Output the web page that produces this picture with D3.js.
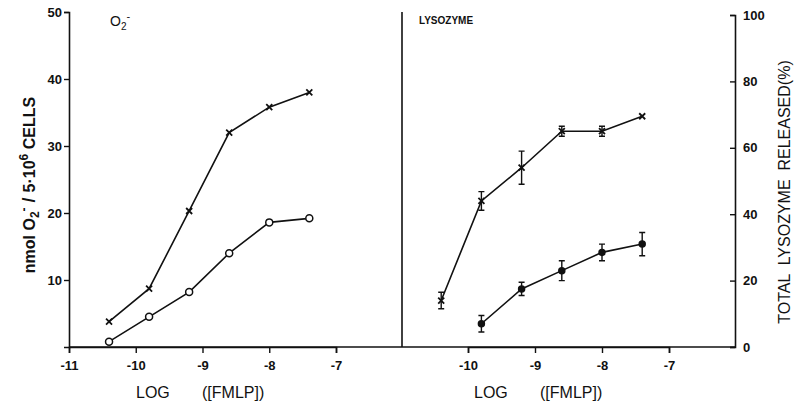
<!DOCTYPE html><html><head><meta charset="utf-8">
<script src="https://cdn.jsdelivr.net/npm/d3@7"></script>
<style>body{margin:0;background:#fff}text{font-family:"Liberation Sans",Arial,sans-serif;fill:#111}</style>
</head><body><svg id="c" width="797" height="412"></svg>
<script>
const logX = [-10.4, -9.8, -9.2, -8.6, -8, -7.4];
const o2Fmlp = [3.8, 8.7, 20.3, 32, 35.8, 38];
const o2Ctrl = [0.8, 4.5, 8.2, 14, 18.6, 19.2];
const lysX = [-10.4, -9.8, -9.2, -8.6, -8, -7.4];
const lysFmlp = [14, 44, 54, 65, 65, 69.5];
const lysFmlpErr = [2.5, 2.8, 5, 1.5, 1.5, 0];
const lysCtrlX = [-9.8, -9.2, -8.6, -8, -7.4];
const lysCtrl = [7, 17.5, 23, 28.5, 31];
const lysCtrlErr = [2.5, 2, 3, 2.5, 3.5];
const leftTicks = [-11, -10, -9, -8, -7];
const rightTicks = [-10, -9, -8, -7];

const svg = d3.select("#c");
const c = "#111";
const x1 = d3.scaleLinear().domain([-11, -7]).range([69, 336]);
const y1 = d3.scaleLinear().domain([0, 50]).range([347, 12]);
const x2 = d3.scaleLinear().domain([-10, -7]).range([468, 669]);
const y2 = d3.scaleLinear().domain([0, 100]).range([347, 15]);

svg.append("line").attr("x1",69).attr("x2",735).attr("y1",347).attr("y2",347).attr("stroke",c).attr("stroke-width",1.6);
svg.append("line").attr("x1",402).attr("x2",402).attr("y1",12).attr("y2",347).attr("stroke",c).attr("stroke-width",1.6);

const gy1 = svg.append("g").attr("transform","translate(69,0)").call(d3.axisLeft(y1).tickValues([10,20,30,40,50]).tickSize(5).tickPadding(2));
const gx1 = svg.append("g").attr("transform","translate(0,347)").call(d3.axisBottom(x1).tickValues(leftTicks).tickSize(6).tickPadding(8).tickFormat(d=>"-"+Math.abs(d)));
const gy2 = svg.append("g").attr("transform","translate(735,0)").call(d3.axisRight(y2).tickValues([0,20,40,60,80,100]).tickSize(-5).tickPadding(3));
const gx2 = svg.append("g").attr("transform","translate(0,347)").call(d3.axisBottom(x2).tickValues(rightTicks).tickSize(6).tickPadding(8).tickFormat(d=>"-"+Math.abs(d)));
[gy1,gx1,gy2,gx2].forEach(g=>{g.select(".domain").attr("stroke",c).attr("stroke-width",1.6);g.selectAll("line").attr("stroke",c).attr("stroke-width",1.4);g.selectAll("text").attr("font-size",13).attr("fill",c).style("font-weight","bold");});
gy2.selectAll("text").attr("x",8);

const line = (xs,ys,xsc,ysc)=>svg.append("path").attr("d",d3.line().x((d,i)=>xsc(xs[i])).y(d=>ysc(d))(ys)).attr("fill","none").attr("stroke",c).attr("stroke-width",1.6);
function crosses(xs,ys,xsc,ysc){xs.forEach((x,i)=>{const px=xsc(x),py=ysc(ys[i]);svg.append("path").attr("d",`M${px-3},${py-3}L${px+3},${py+3}M${px-3},${py+3}L${px+3},${py-3}`).attr("stroke",c).attr("stroke-width",1.8);});}
function circles(xs,ys,xsc,ysc,fill,r){xs.forEach((x,i)=>svg.append("circle").attr("cx",xsc(x)).attr("cy",ysc(ys[i])).attr("r",r).attr("fill",fill).attr("stroke",c).attr("stroke-width",1.5));}
function errs(xs,ys,es,xsc,ysc){xs.forEach((x,i)=>{if(!es[i])return;const px=xsc(x),a=ysc(ys[i]+es[i]),b=ysc(ys[i]-es[i]);svg.append("path").attr("d",`M${px},${a}L${px},${b}M${px-3},${a}L${px+3},${a}M${px-3},${b}L${px+3},${b}`).attr("stroke",c).attr("stroke-width",1.4).attr("fill","none");});}

line(logX,o2Fmlp,x1,y1); crosses(logX,o2Fmlp,x1,y1);
line(logX,o2Ctrl,x1,y1); circles(logX,o2Ctrl,x1,y1,"#fff",3.5);
line(lysX,lysFmlp,x2,y2); errs(lysX,lysFmlp,lysFmlpErr,x2,y2); crosses(lysX,lysFmlp,x2,y2);
line(lysCtrlX,lysCtrl,x2,y2); errs(lysCtrlX,lysCtrl,lysCtrlErr,x2,y2); circles(lysCtrlX,lysCtrl,x2,y2,"#111",3);

svg.append("text").attr("x",110).attr("y",26).attr("font-size",14).html('O<tspan dy="4" font-size="10">2</tspan><tspan dy="-10" font-size="11">-</tspan>');
svg.append("text").attr("x",419).attr("y",24).attr("font-size",10).style("font-weight","bold").text("LYSOZYME");
const logLbl=(x)=>{svg.append("text").attr("x",x).attr("y",398).attr("font-size",16).text("LOG");svg.append("text").attr("x",x+66).attr("y",398).attr("font-size",16).text("([FMLP])");};
logLbl(136); logLbl(474);
svg.append("text").attr("transform","translate(35,185) rotate(-90)").attr("text-anchor","middle").attr("font-size",16).style("font-weight","bold").html('nmol O<tspan dy="4" font-size="12">2</tspan><tspan dy="-11" font-size="12">-</tspan><tspan dy="7" font-size="18"> / </tspan><tspan>5·10</tspan><tspan dy="-7" font-size="12">6</tspan><tspan dy="7"> CELLS</tspan>');
svg.append("text").attr("transform","translate(790,192) rotate(-90)").attr("text-anchor","middle").attr("font-size",16).style("white-space","pre").text("TOTAL  LYSOZYME  RELEASED(%)");
</script></body></html>
